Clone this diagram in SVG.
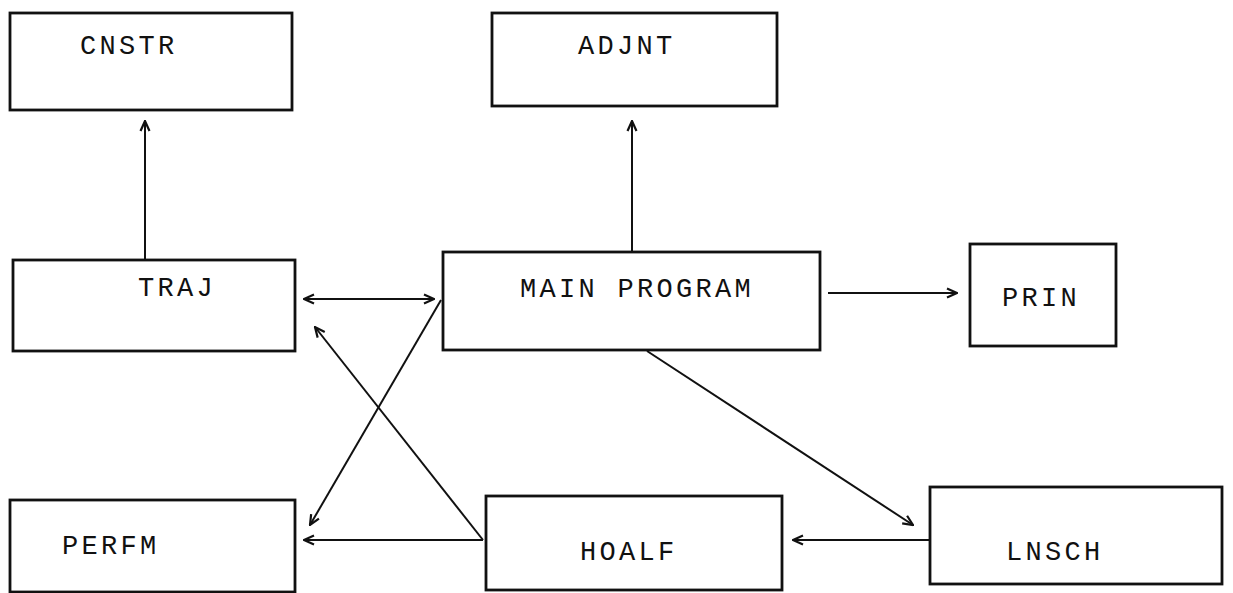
<svg xmlns="http://www.w3.org/2000/svg" width="1233" height="593" viewBox="0 0 1233 593">
<style>
.box{fill:#fff;stroke:#111;stroke-width:2.8}
.lbl{font-family:"Liberation Mono","Courier New",monospace;font-size:27px;letter-spacing:3.3px;fill:#111}
.ln{fill:none;stroke:#111;stroke-width:2}
</style>
<defs>
<marker id="ah" viewBox="0 0 12 12" refX="11" refY="6" markerWidth="12" markerHeight="12" markerUnits="userSpaceOnUse" orient="auto-start-reverse">
<path d="M1,1.5 L11,6 L1,10.5" fill="none" stroke="#111" stroke-width="2.2"/>
</marker>
</defs>
<rect width="1233" height="593" fill="#fff"/>
<g id="connectors">
<line class="ln" x1="145" y1="261" x2="145" y2="121" marker-end="url(#ah)"/>
<line class="ln" x1="632" y1="252" x2="632" y2="121" marker-end="url(#ah)"/>
<line class="ln" x1="304" y1="299" x2="434" y2="299" marker-start="url(#ah)" marker-end="url(#ah)"/>
<line class="ln" x1="828" y1="293" x2="957" y2="293" marker-end="url(#ah)"/>
<line class="ln" x1="441" y1="300" x2="310" y2="525" marker-end="url(#ah)"/>
<line class="ln" x1="483" y1="540" x2="315" y2="327" marker-end="url(#ah)"/>
<line class="ln" x1="483" y1="540" x2="304" y2="540" marker-end="url(#ah)"/>
<line class="ln" x1="647" y1="351" x2="913" y2="525" marker-end="url(#ah)"/>
<line class="ln" x1="930" y1="540" x2="793" y2="540" marker-end="url(#ah)"/>
</g>
<g id="CNSTR"><rect class="box" x="10" y="13" width="282" height="97"/><text class="lbl" x="80" y="54">CNSTR</text></g>
<g id="ADJNT"><rect class="box" x="492" y="13" width="285" height="93"/><text class="lbl" x="578" y="54">ADJNT</text></g>
<g id="TRAJ"><rect class="box" x="13" y="260" width="282" height="91"/><text class="lbl" x="138" y="296">TRAJ</text></g>
<g id="MAIN"><rect class="box" x="443" y="252" width="377" height="98"/><text class="lbl" x="520" y="297">MAIN PROGRAM</text></g>
<g id="PRIN"><rect class="box" x="970" y="244" width="146" height="102"/><text class="lbl" x="1002" y="306">PRIN</text></g>
<g id="PERFM"><rect class="box" x="10" y="500" width="285" height="92"/><text class="lbl" x="62" y="554">PERFM</text></g>
<g id="HOALF"><rect class="box" x="486" y="496" width="296" height="94"/><text class="lbl" x="580" y="560">HOALF</text></g>
<g id="LNSCH"><rect class="box" x="930" y="487" width="292" height="97"/><text class="lbl" x="1006" y="560">LNSCH</text></g>
</svg>
